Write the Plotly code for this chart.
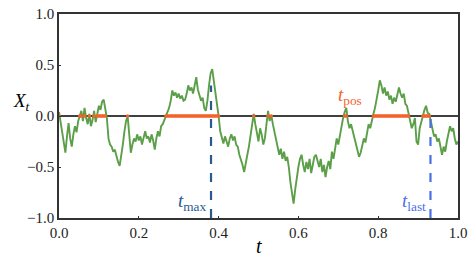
import numpy as np
import plotly.graph_objects as go

# Brownian path values (t on a regular 0.004 grid)
X = [
 0.04, -0.05, -0.15, -0.25, -0.36, -0.20, -0.07, -0.22, -0.30, -0.18,
 -0.10, -0.16, -0.05, 0.00, 0.05, -0.05, 0.08, -0.02, -0.08, 0.02,
 -0.10, -0.04, 0.05, -0.06, 0.03, 0.10, 0.06, 0.14, 0.16, 0.08,
 -0.02, -0.22, -0.28, -0.30, -0.35, -0.33, -0.40, -0.45, -0.49, -0.40,
 -0.28, -0.15, -0.05, 0.00, -0.20, -0.36, -0.28, -0.22, -0.25, -0.18,
 -0.24, -0.20, -0.28, -0.22, -0.15, -0.22, -0.20, -0.26, -0.18, -0.24,
 -0.33, -0.22, -0.15, -0.20, -0.10, -0.08, -0.04, 0.00, 0.04, 0.08,
 0.15, 0.25, 0.20, 0.23, 0.18, 0.22, 0.17, 0.20, 0.15, 0.16,
 0.22, 0.30, 0.25, 0.28, 0.22, 0.32, 0.38, 0.26, 0.20, 0.15,
 0.18, 0.08, 0.05, 0.15, 0.30, 0.42, 0.46, 0.35, 0.20, 0.08,
 0.00, -0.15, -0.22, -0.27, -0.20, -0.24, -0.30, -0.22, -0.18, -0.24,
 -0.20, -0.28, -0.30, -0.38, -0.42, -0.48, -0.55, -0.45, -0.38, -0.30,
 -0.20, -0.10, 0.02, -0.08, -0.15, -0.25, -0.12, -0.18, -0.28, -0.22,
 -0.08, 0.05, -0.05, 0.01, -0.08, -0.15, -0.22, -0.30, -0.38, -0.32,
 -0.42, -0.35, -0.44, -0.40, -0.50, -0.65, -0.78, -0.86, -0.72, -0.60,
 -0.50, -0.42, -0.38, -0.48, -0.55, -0.45, -0.52, -0.42, -0.56, -0.48,
 -0.40, -0.38, -0.45, -0.50, -0.42, -0.55, -0.48, -0.60, -0.50, -0.44,
 -0.52, -0.35, -0.42, -0.30, -0.22, -0.28, -0.18, -0.10, -0.02, 0.04,
 0.08, -0.05, -0.12, -0.08, -0.15, -0.20, -0.28, -0.35, -0.40, -0.36,
 -0.30, -0.22, -0.26, -0.15, -0.08, -0.12, -0.03, 0.02, 0.08, 0.15,
 0.25, 0.35, 0.30, 0.22, 0.28, 0.20, 0.24, 0.16, 0.20, 0.12,
 0.18, 0.14, 0.22, 0.28, 0.22, 0.18, 0.22, 0.12, 0.10, 0.02,
 -0.05, -0.12, -0.08, -0.02, -0.25, -0.28, -0.12, -0.05, 0.02, 0.06,
 0.10, 0.03, 0.02, -0.05, -0.12, -0.20, -0.18, -0.25, -0.22, -0.32,
 -0.38, -0.30, -0.35, -0.25, -0.18, -0.10, -0.15, -0.12, -0.22, -0.28,
 -0.25,
]
X = np.array(X)
t = np.linspace(0.0, 1.0, len(X))

t_max = 0.381
x_at_max = 0.46
t_last = 0.931

x_ticks = [0.0, 0.2, 0.4, 0.6, 0.8, 1.0]
y_ticks = [-1.0, -0.5, 0.0, 0.5, 1.0]

GREEN = "#5b9f49"
ORANGE = "#f5622a"
DARKBLUE = "#2a5a8f"
BLUE = "#4a6fe3"
FONT = "Liberation Serif"

pos = np.where(X >= 0, 0.0, np.nan)

fig = go.Figure()
fig.add_trace(go.Scatter(x=[0, 1], y=[0, 0], mode="lines",
                         line=dict(color="black", width=1.5), hoverinfo="skip"))
fig.add_trace(go.Scatter(x=t, y=X, mode="lines",
                         line=dict(color=GREEN, width=1.9), hoverinfo="skip"))
fig.add_trace(go.Scatter(x=t, y=pos, mode="lines+markers",
                         line=dict(color=ORANGE, width=2.6),
                         marker=dict(color=ORANGE, size=3.5), hoverinfo="skip"))
fig.add_trace(go.Scatter(x=[t_max, t_max], y=[-1, x_at_max * 0.65], mode="lines",
                         line=dict(color=DARKBLUE, width=2.2, dash="dash"), hoverinfo="skip"))
fig.add_trace(go.Scatter(x=[t_last, t_last], y=[-1, 0], mode="lines",
                         line=dict(color=BLUE, width=2.2, dash="dash"), hoverinfo="skip"))

ann = [
    dict(x=t_max - 0.005, y=-0.84, text="<i>t</i><sub>max</sub>", xanchor="right",
         font=dict(color=DARKBLUE, size=19)),
    dict(x=t_last - 0.005, y=-0.84, text="<i>t</i><sub>last</sub>", xanchor="right",
         font=dict(color=BLUE, size=19)),
    dict(x=0.73, y=0.2, text="<i>t</i><sub>pos</sub>", xanchor="center",
         font=dict(color=ORANGE, size=19)),
]
for a in ann:
    a["font"]["family"] = FONT
    fig.add_annotation(xref="x", yref="y", showarrow=False, yanchor="middle", **a)
# axis labels placed as paper-referenced text
fig.add_annotation(x=-0.095, y=0.57, xref="paper", yref="paper", showarrow=False,
                   text="<i>X</i><sub><i>t</i></sub>", xanchor="center", yanchor="middle",
                   font=dict(family=FONT, size=19, color="black"))
fig.add_annotation(x=0.5, y=-0.137, xref="paper", yref="paper", showarrow=False,
                   text="<i>t</i>", xanchor="center", yanchor="middle",
                   font=dict(family=FONT, size=20, color="black"))

axis_common = dict(showgrid=False, zeroline=False, showline=True, mirror=True,
                   linecolor="#333", linewidth=1.5, ticks="inside", ticklen=2,
                   tickcolor="#333", tickwidth=1, tickformat=".1f",
                   ticklabeloverflow="allow", automargin=False,
                   tickfont=dict(family=FONT, size=15, color="#222"))
fig.update_xaxes(range=[0, 1], tickvals=x_ticks, **axis_common)
fig.update_yaxes(range=[-1, 1], tickvals=y_ticks, **axis_common)
fig.update_layout(width=474, height=266, margin=dict(l=59, r=16, t=14, b=48),
                  plot_bgcolor="white", paper_bgcolor="white", showlegend=False)
fig.write_html("out.html", config={"displayModeBar": False},
               post_script="document.body.style.margin='0';")
